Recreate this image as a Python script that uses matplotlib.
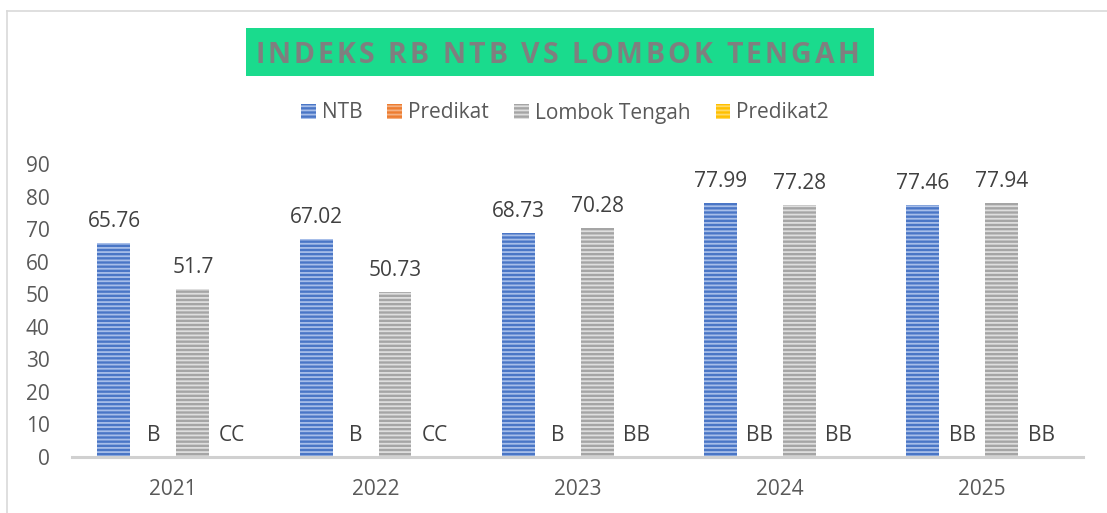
import numpy as np
import matplotlib
matplotlib.use("Agg")
import matplotlib.pyplot as plt
from matplotlib.patches import Patch, Rectangle
from matplotlib.lines import Line2D
from matplotlib.font_manager import FontProperties

years = ["2021", "2022", "2023", "2024", "2025"]
ntb = [65.76, 67.02, 68.73, 77.99, 77.46]
predikat = ["B", "B", "B", "BB", "BB"]
lombok = [51.7, 50.73, 70.28, 77.28, 77.94]
predikat2 = ["CC", "CC", "BB", "BB", "BB"]
series_names = ["NTB", "Predikat", "Lombok Tengah", "Predikat2"]
title = "INDEKS RB NTB VS LOMBOK TENGAH"

plt.rcParams['font.family'] = ['Open Sans', 'DejaVu Sans']
plt.rcParams['hatch.linewidth'] = 1.3

W, H = 1107, 513
fig = plt.figure(figsize=(W / 100, H / 100), dpi=100)

# outer border (only top and left visible)
fig.add_artist(Line2D([7 / W, 7 / W], [0, 1 - 11 / H], transform=fig.transFigure, color='#D9D9D9', lw=1.2))
fig.add_artist(Line2D([7 / W, 1], [1 - 11 / H, 1 - 11 / H], transform=fig.transFigure, color='#D9D9D9', lw=1.2))

ax = fig.add_axes([72 / W, (H - 457) / H, (1083 - 72) / W, (457 - 164) / H])
x = np.arange(len(years))
bw = 0.163
offs = [-0.2925, -0.0975, 0.0975, 0.2925]

b1 = ax.bar(x + offs[0], ntb, bw, color='#4A76C6', edgecolor='#A7BEE9', hatch='----', lw=0)
b2 = ax.bar(x + offs[1], [0] * 5, bw, color='#ED7D31', lw=0)
b3 = ax.bar(x + offs[2], lombok, bw, color='#A5A5A5', edgecolor='#DEDEDE', hatch='----', lw=0)
b4 = ax.bar(x + offs[3], [0] * 5, bw, color='#FFC000', lw=0)

lab_kw = dict(padding=8, fontsize=15, color='#404040')
ax.bar_label(b1, labels=[f"{v:g}" for v in ntb], **lab_kw)
ax.bar_label(b2, labels=predikat, **lab_kw)
ax.bar_label(b3, labels=[f"{v:g}" for v in lombok], **lab_kw)
ax.bar_label(b4, labels=predikat2, **lab_kw)

ax.set_xlim(-0.5, 4.5)
ax.set_ylim(0, 90)
ax.set_yticks(range(0, 91, 10))
ax.set_xticks(x)
ax.set_xticklabels(years)
ax.tick_params(axis='both', length=0, labelsize=15, labelcolor='#595959')
ax.tick_params(axis='x', pad=16)
ax.tick_params(axis='y', pad=16)
for s in ['left', 'right', 'top']:
    ax.spines[s].set_visible(False)
ax.spines['bottom'].set_color('#D0D0D0')
ax.spines['bottom'].set_linewidth(2.2)
ax.patch.set_alpha(0)

# title box with spaced letters
fig.add_artist(Rectangle((246 / W, 1 - 76 / H), 628 / W, 48 / H, transform=fig.transFigure,
                         facecolor='#1ADB8D', edgecolor='none'))
renderer = fig.canvas.get_renderer()
tprop = FontProperties(family='Open Sans', weight='bold', size=20.5)

def tw(s):
    return renderer.get_text_width_height_descent(s, tprop, ismath=False)[0]

x0, target = 255, 604
gap = (target - tw(title)) / (len(title) - 1)
for i, ch in enumerate(title):
    if ch == ' ':
        continue
    px = x0 + tw(title[:i] + 'I') - tw('I') + i * gap
    fig.text(px / W, 1 - 63.3 / H, ch, ha='left', va='baseline', fontproperties=tprop, color='#7F7F7F')

handles = [
    Patch(facecolor='#4A76C6', edgecolor='#A7BEE9', hatch='----', lw=0),
    Patch(facecolor='#ED7D31', edgecolor='#F4B183', hatch='----', lw=0),
    Patch(facecolor='#A5A5A5', edgecolor='#DEDEDE', hatch='----', lw=0),
    Patch(facecolor='#FFC000', edgecolor='#FFD966', hatch='----', lw=0),
]
fig.legend(handles, series_names, loc='center', bbox_to_anchor=(565 / W, 1 - 113 / H), ncol=4,
           frameon=False, fontsize=15, handlelength=0.7, handleheight=0.7, handletextpad=0.3,
           columnspacing=1.2, labelcolor='#595959')

fig.savefig('out.png', dpi=100)
